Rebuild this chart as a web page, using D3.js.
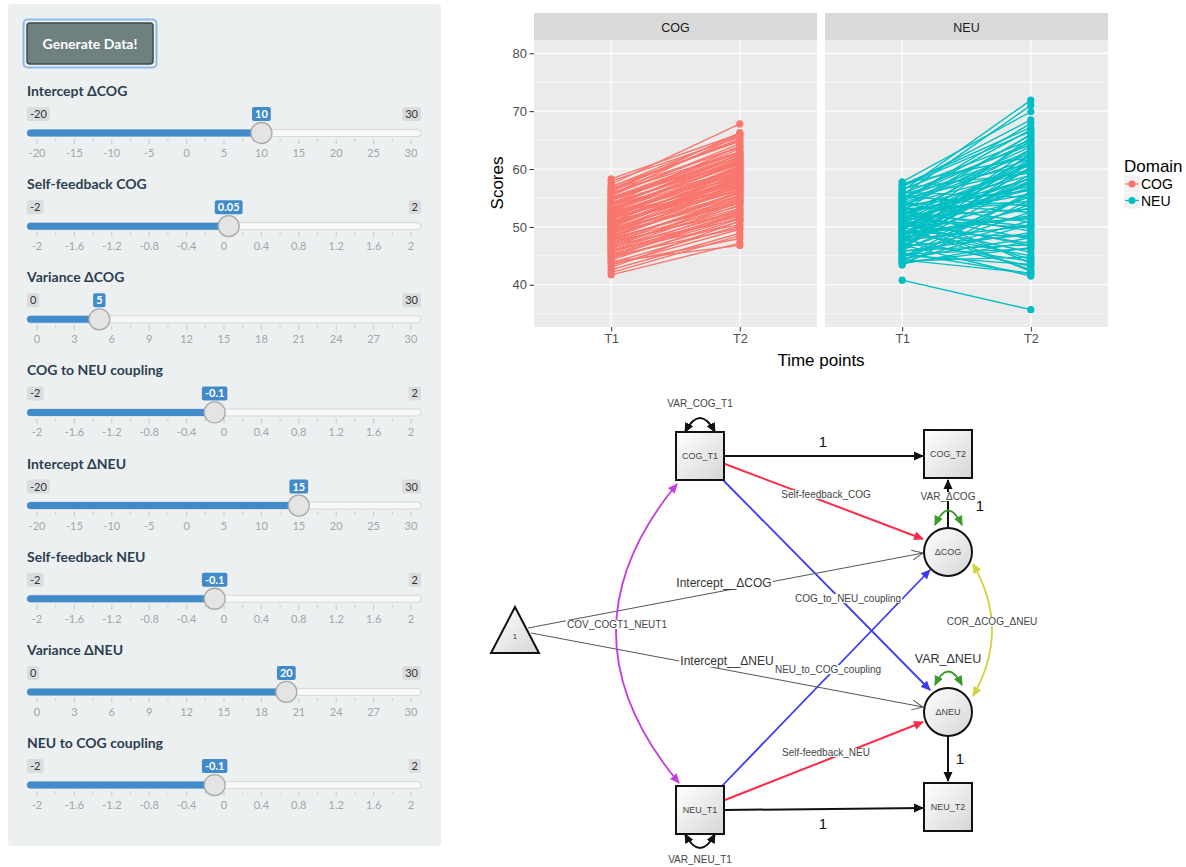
<!DOCTYPE html>
<html>
<head>
<meta charset="utf-8">
<script src="https://cdn.jsdelivr.net/npm/d3@7"></script>
<style>
  body { margin: 0; background: #fff; }
  svg { display: block; }
</style>
</head>
<body>
<svg id="app" width="1186" height="867"></svg>
<script>
// ---- slider inputs ----
var sliderLabels = ["Intercept ΔCOG", "Self-feedback COG", "Variance ΔCOG", "COG to NEU coupling",
                    "Intercept ΔNEU", "Self-feedback NEU", "Variance ΔNEU", "NEU to COG coupling"];
var sliderMins = [-20, -2, 0, -2, -20, -2, 0, -2];
var sliderMaxs = [30, 2, 30, 2, 30, 2, 30, 2];
var sliderValues = [10, 0.05, 5, -0.1, 15, -0.1, 20, -0.1];
var sliderGridSteps = [5, 0.4, 3, 0.4, 5, 0.4, 3, 0.4];

// ---- simulated scores ----
var timePoints = ["T1", "T2"];
var domains = ["COG", "NEU"];
var domainColors = ["#F8766D", "#00BFC4"];
var yTicks = [40, 50, 60, 70, 80];
var yMinorTicks = [35, 45, 55, 65, 75];

var cogT1 = [50.2, 47.8, 53.1, 44.6, 55.7, 49.3, 51.9, 46.2, 58.3, 42.1, 52.4, 48.7, 54.8, 50.9, 45.3, 56.6, 43.4, 51.2,
             49.8, 53.9, 47.1, 57.4, 44.0, 52.8, 50.5, 46.8, 55.1, 48.2, 53.5, 41.7, 51.6, 49.0, 54.2, 45.9, 57.0, 50.0,
             47.5, 52.1, 43.0, 56.1, 48.9, 53.7, 46.5, 51.4, 55.4, 44.9, 50.7, 49.5, 54.5, 42.6, 52.6, 47.3, 57.9, 45.1,
             51.0, 48.4, 53.3, 46.0, 55.9, 50.4, 43.8, 52.0, 49.2, 54.0, 47.6, 56.9, 45.6, 51.8, 48.0, 53.0,
             49.6, 52.3, 46.6, 54.6, 51.5, 48.5, 55.0, 44.3, 50.8, 53.6, 47.0, 56.3, 49.9, 45.8, 52.9, 51.3, 48.1, 54.9,
             43.6, 50.3, 53.8, 47.9, 56.5, 46.3, 51.7, 49.4, 55.6, 44.8, 52.5, 50.6];
var cogT2 = [57.9, 54.6, 60.8, 50.9, 63.9, 55.2, 59.7, 53.8, 66.1, 48.5, 58.6, 57.0, 62.4, 56.8, 52.1, 65.2, 49.6, 58.9,
             56.3, 61.7, 55.4, 67.8, 46.8, 60.1, 58.4, 51.3, 63.0, 55.9, 62.6, 47.2, 57.5, 56.6, 61.1, 53.0, 64.8, 59.3,
             53.6, 60.4, 51.0, 66.3, 54.8, 59.9, 54.7, 59.0, 64.4, 49.8, 57.1, 58.1, 63.5, 48.9, 61.3, 52.7, 65.5, 51.6,
             56.2, 56.1, 60.9, 50.4, 62.9, 58.7, 50.2, 58.0, 57.6, 64.0, 55.0, 66.0, 52.4, 60.0, 54.1, 61.6,
             56.9, 59.2, 54.2, 62.0, 60.3, 55.5, 61.9, 51.4, 59.6, 62.2, 53.2, 63.7, 58.5, 51.9, 61.0, 57.8, 56.0, 62.8,
             48.0, 58.2, 61.4, 54.3, 65.1, 52.6, 60.6, 55.8, 65.8, 52.3, 59.4, 57.3];
var neuT1 = [50.8, 47.2, 53.5, 45.0, 56.2, 49.1, 52.0, 44.3, 57.8, 48.5, 51.3, 54.7, 46.4, 50.1, 43.6, 55.5, 49.7, 52.9,
             47.9, 53.9, 45.7, 51.0, 56.9, 48.0, 50.4, 44.7, 54.1, 46.9, 52.5, 49.4, 57.2, 43.9, 51.7, 47.5, 55.0, 50.0,
             45.3, 53.2, 48.8, 56.5, 46.1, 51.5, 44.1, 54.4, 49.9, 52.2, 47.0, 55.8, 45.5, 50.6, 48.2, 53.7, 43.4, 51.9,
             46.7, 57.5, 49.2, 54.9, 44.9, 52.7, 47.7, 50.3, 55.3, 46.3, 53.0, 48.6, 51.1, 56.0, 45.9, 40.8,
             49.5, 52.4, 46.0, 54.6, 50.9, 47.4, 55.7, 44.5, 51.6, 53.4, 48.3, 56.7, 45.1, 50.2, 52.8, 47.8, 54.2, 43.8,
             49.0, 53.1, 46.6, 55.1, 51.2, 48.9, 57.0, 44.0, 52.1, 50.7, 46.2, 54.0];
var neuT2 = [58.4, 44.1, 63.9, 52.6, 71.9, 48.3, 60.7, 42.0, 69.9, 55.2, 46.7, 66.8, 57.9, 51.4, 47.5, 71.0, 62.3, 54.0,
             43.2, 59.6, 49.0, 64.9, 68.5, 53.3, 45.6, 56.1, 61.8, 41.5, 57.0, 65.5, 67.2, 50.5, 55.7, 60.2, 63.0, 42.6,
             46.2, 58.9, 61.4, 65.0, 53.9, 49.8, 44.8, 62.7, 56.6, 47.9, 59.1, 64.2, 41.9, 60.0, 52.0, 56.3, 54.8, 63.4,
             48.6, 62.1, 45.0, 59.9, 51.1, 66.0, 50.2, 57.4, 53.6, 62.8, 43.7, 58.0, 61.0, 55.1, 46.9, 35.7,
             61.7, 50.1, 55.4, 67.9, 44.4, 58.6, 60.9, 48.1, 53.1, 65.9, 62.5, 59.3, 43.5, 56.8, 49.3, 63.6, 52.5, 46.4,
             57.7, 54.4, 60.4, 64.6, 42.3, 51.7, 66.5, 55.9, 58.3, 47.1, 61.2, 50.8];
var scoresT1 = [cogT1, neuT1];
var scoresT2 = [cogT2, neuT2];

var svg = d3.select("#app");

// ================= sidebar with sliders =================
svg.append("rect")
  .attr("x", 8).attr("y", 4).attr("width", 433).attr("height", 842)
  .attr("rx", 4).attr("fill", "#ecf0f1");

// button with focus ring
svg.append("rect")
  .attr("x", 23.5).attr("y", 19.5).attr("width", 133).attr("height", 48)
  .attr("rx", 4).attr("fill", "none").attr("stroke", "#8dbbe9").attr("stroke-width", 2);
svg.append("rect")
  .attr("x", 27).attr("y", 23).attr("width", 126).attr("height", 41)
  .attr("rx", 3).attr("fill", "#6e8080").attr("stroke", "#3f4a4b").attr("stroke-width", 1.5);
svg.append("text")
  .attr("x", 90).attr("y", 48.5).attr("text-anchor", "middle")
  .style("font", "bold 14px Lato").attr("fill", "#fff")
  .text("Generate Data!");

var blue = "#428bca";

sliderLabels.forEach(function(label, i) {
  var trackY = 133 + i * 93.15;
  var sx = d3.scaleLinear().domain([sliderMins[i], sliderMaxs[i]]).range([37, 411]);
  var g = svg.append("g");

  g.append("text")
    .attr("x", 27).attr("y", trackY - 37)
    .style("font", "bold 14px Lato").attr("fill", "#2c3e50")
    .text(label);

  // min / max labels
  function box(text, x, anchor, fill, color, bold) {
    var t = g.append("text")
      .attr("y", trackY - 15)
      .style("font", (bold ? "bold " : "") + "11px Lato")
      .attr("fill", color)
      .text(text);
    var w = t.node().getComputedTextLength() + 6;
    var left = anchor === "start" ? x : anchor === "end" ? x - w : x - w / 2;
    g.insert("rect", "text")
      .attr("x", left).attr("y", trackY - 26).attr("width", w).attr("height", 14)
      .attr("rx", 2).attr("fill", fill);
    t.attr("x", left + 3);
  }
  box(String(sliderMins[i]), 27, "start", "#dadcde", "#333", false);
  box(String(sliderMaxs[i]), 421, "end", "#dadcde", "#333", false);

  // track + fill
  var hx = sx(sliderValues[i]);
  g.append("rect")
    .attr("x", 27).attr("y", trackY - 3.5).attr("width", 394).attr("height", 7)
    .attr("rx", 3.5).attr("fill", "#f8f8f8").attr("stroke", "#cfcfcf").attr("stroke-width", 0.8);
  g.append("rect")
    .attr("x", 27).attr("y", trackY - 3.5).attr("width", hx - 27).attr("height", 7)
    .attr("rx", 3.5).attr("fill", blue);

  // grid
  var step = sliderGridSteps[i];
  var grid = d3.range(0, 11).map(function(k) { return +(sliderMins[i] + k * step).toFixed(2); });
  g.selectAll(".maj").data(grid).enter().append("line")
    .attr("x1", d => sx(d)).attr("x2", d => sx(d))
    .attr("y1", trackY + 6).attr("y2", trackY + 11)
    .attr("stroke", "#c8cacc").attr("stroke-width", 1);
  g.selectAll(".mn").data(grid.slice(0, -1)).enter().append("line")
    .attr("x1", d => sx(d + step / 2)).attr("x2", d => sx(d + step / 2))
    .attr("y1", trackY + 6).attr("y2", trackY + 8.5)
    .attr("stroke", "#c8cacc").attr("stroke-width", 1);
  g.selectAll(".lab").data(grid).enter().append("text")
    .attr("x", d => sx(d)).attr("y", trackY + 24)
    .attr("text-anchor", "middle")
    .style("font", "11px Lato").attr("fill", "#a3a6a8")
    .text(d => String(d));

  // value bubble + handle
  box(String(sliderValues[i]), hx, "middle", blue, "#fff", true);
  g.append("circle")
    .attr("cx", hx).attr("cy", trackY).attr("r", 10.5)
    .attr("fill", "#e4e4e4").attr("stroke", "#a9a9a9").attr("stroke-width", 1.3);
});

// ================= faceted line plot =================
var panelW = 283, panelTop = 40, panelBottom = 327;
var panelX = [534, 825];
var y = d3.scaleLinear().domain([32.7, 82.3]).range([panelBottom, panelTop]);
var chartFont = "Liberation Sans, Arial, sans-serif";

domains.forEach(function(dom, di) {
  var x = d3.scalePoint().domain(timePoints).range([panelX[di], panelX[di] + panelW]).padding(0.6);
  var g = svg.append("g");

  g.append("rect").attr("x", panelX[di]).attr("y", 13).attr("width", panelW).attr("height", 27)
    .attr("fill", "#D9D9D9");
  g.append("text").attr("x", panelX[di] + panelW / 2).attr("y", 31.5)
    .attr("text-anchor", "middle").style("font-family", chartFont).style("font-size", "12.5px")
    .attr("fill", "#1a1a1a").text(dom);
  g.append("rect").attr("x", panelX[di]).attr("y", panelTop).attr("width", panelW)
    .attr("height", panelBottom - panelTop).attr("fill", "#EBEBEB");

  g.selectAll(".minor").data(yMinorTicks).enter().append("line")
    .attr("x1", panelX[di]).attr("x2", panelX[di] + panelW)
    .attr("y1", d => y(d)).attr("y2", d => y(d))
    .attr("stroke", "#fff").attr("stroke-width", 0.6);
  g.selectAll(".major").data(yTicks).enter().append("line")
    .attr("x1", panelX[di]).attr("x2", panelX[di] + panelW)
    .attr("y1", d => y(d)).attr("y2", d => y(d))
    .attr("stroke", "#fff").attr("stroke-width", 1.2);
  g.selectAll(".vmajor").data(timePoints).enter().append("line")
    .attr("x1", d => x(d)).attr("x2", d => x(d))
    .attr("y1", panelTop).attr("y2", panelBottom)
    .attr("stroke", "#fff").attr("stroke-width", 1.2);

  var t1 = scoresT1[di], t2 = scoresT2[di];
  var pairs = t1.map(function(v, k) { return [v, t2[k]]; });
  var line = d3.line().x((d, k) => x(timePoints[k])).y(d => y(d));
  g.selectAll(".traj").data(pairs).enter().append("path")
    .attr("d", d => line(d))
    .attr("fill", "none").attr("stroke", domainColors[di]).attr("stroke-width", 1.4);
  timePoints.forEach(function(tp, k) {
    g.selectAll(".pt" + k).data(pairs).enter().append("circle")
      .attr("cx", x(tp)).attr("cy", d => y(d[k])).attr("r", 3.6)
      .attr("fill", domainColors[di]);
  });

  // x axis
  var xa = g.append("g").attr("transform", "translate(0," + panelBottom + ")")
    .call(d3.axisBottom(x).tickSizeInner(4.5).tickSizeOuter(0).tickPadding(3));
  xa.select(".domain").remove();
  xa.selectAll("line").attr("stroke", "#333");
  xa.selectAll("text").style("font-family", chartFont).style("font-size", "12.5px").attr("fill", "#4d4d4d");
});

var ya = svg.append("g").attr("transform", "translate(" + panelX[0] + ",0)")
  .call(d3.axisLeft(y).tickValues(yTicks).tickSizeInner(4.5).tickSizeOuter(0).tickPadding(2.5));
ya.select(".domain").remove();
ya.selectAll("line").attr("stroke", "#333");
ya.selectAll("text").style("font-family", chartFont).style("font-size", "13px").attr("fill", "#4d4d4d");

svg.append("text").attr("transform", "translate(503,183) rotate(-90)")
  .attr("text-anchor", "middle").style("font-family", chartFont).style("font-size", "17px")
  .attr("fill", "#000").text("Scores");
svg.append("text").attr("x", 821).attr("y", 366)
  .attr("text-anchor", "middle").style("font-family", chartFont).style("font-size", "17px")
  .attr("fill", "#000").text("Time points");

// legend
svg.append("text").attr("x", 1124).attr("y", 172)
  .style("font-family", chartFont).style("font-size", "17px").attr("fill", "#000").text("Domain");
domains.forEach(function(dom, di) {
  var ky = 184 + di * 16.5;
  svg.append("rect").attr("x", 1124).attr("y", ky - 8).attr("width", 16).attr("height", 16).attr("fill", "#f2f2f2");
  svg.append("line").attr("x1", 1125).attr("x2", 1139).attr("y1", ky).attr("y2", ky)
    .attr("stroke", domainColors[di]).attr("stroke-width", 1.2);
  svg.append("circle").attr("cx", 1132).attr("cy", ky).attr("r", 3.6).attr("fill", domainColors[di]);
  svg.append("text").attr("x", 1141).attr("y", ky + 5)
    .style("font-family", chartFont).style("font-size", "14px").attr("fill", "#000").text(dom);
});

// ================= path diagram =================
var diagFont = "Liberation Sans, Arial, sans-serif";
var defs = svg.append("defs");
var grad = defs.append("linearGradient").attr("id", "nodeFill")
  .attr("x1", "0").attr("y1", "0").attr("x2", "1").attr("y2", "1");
grad.append("stop").attr("offset", "0").attr("stop-color", "#ffffff");
grad.append("stop").attr("offset", "1").attr("stop-color", "#d6d6d6");

var arrowColors = { black: "#111", red: "#ff2a47", blue: "#3b3bf2", magenta: "#c63de0", green: "#3c9a2c", yellow: "#d2d23c" };
Object.keys(arrowColors).forEach(function(k) {
  defs.append("marker").attr("id", "arr-" + k)
    .attr("viewBox", "0 -5 10 10").attr("refX", 9).attr("refY", 0)
    .attr("markerUnits", "userSpaceOnUse").attr("markerWidth", 10).attr("markerHeight", 10)
    .attr("orient", "auto-start-reverse")
    .append("path").attr("d", "M0,-4.5L10,0L0,4.5Z").attr("fill", arrowColors[k]);
});
defs.append("marker").attr("id", "arr-open")
  .attr("viewBox", "0 -6 12 12").attr("refX", 11).attr("refY", 0)
  .attr("markerUnits", "userSpaceOnUse").attr("markerWidth", 12).attr("markerHeight", 12)
  .attr("orient", "auto")
  .append("path").attr("d", "M0,-5L11,0L0,5").attr("fill", "none").attr("stroke", "#555").attr("stroke-width", 1);

var dg = svg.append("g");

function edge(d, color, width, both, open) {
  var p = dg.append("path").attr("d", d).attr("fill", "none")
    .attr("stroke", open ? "#555" : arrowColors[color]).attr("stroke-width", width);
  p.attr("marker-end", "url(#arr-" + (open ? "open" : color) + ")");
  if (both) p.attr("marker-start", "url(#arr-" + color + ")");
}
function label(text, x, yy, size, bg, color) {
  var t = dg.append("text").attr("x", x).attr("y", yy).attr("text-anchor", "middle")
    .style("font-family", diagFont).style("font-size", size + "px").attr("fill", color || "#444").text(text);
  if (bg) {
    var b = t.node().getBBox();
    dg.insert("rect", function() { return t.node(); })
      .attr("x", b.x - 1).attr("y", b.y + 1).attr("width", b.width + 2).attr("height", b.height - 2).attr("fill", "#fff");
  }
}

// regression paths
edge("M725,456L923,456", "black", 2);
edge("M725,810L923,808", "black", 2);
edge("M948,527L948,480", "black", 2);
edge("M948,736L948,781", "black", 2);
edge("M725,464L923,539", "red", 2);
edge("M725,800L923,722", "red", 2);
edge("M722,479L930,690", "blue", 1.8);
edge("M722,786L930,570", "blue", 1.8);
edge("M528,628L923,553", "black", 1, false, true);
edge("M531,633L923,707", "black", 1, false, true);
// covariances / variances
edge("M679,783Q554,633 677,484", "magenta", 1.8, true);
edge("M973,564Q1011,630 973,696", "yellow", 1.8, true);
edge("M685,432Q700,404 715,432", "black", 1.8, true);
edge("M685,834Q700,862 715,834", "black", 1.8, true);
edge("M935,525Q948,496 962,525", "green", 1.8, true);
edge("M935,685Q948,658 962,685", "green", 1.8, true);

// nodes
[[676, 432, "COG_T1"], [676, 786, "NEU_T1"], [924, 430, "COG_T2"], [924, 783, "NEU_T2"]].forEach(function(n) {
  dg.append("rect").attr("x", n[0]).attr("y", n[1]).attr("width", 48).attr("height", 48)
    .attr("fill", "url(#nodeFill)").attr("stroke", "#111").attr("stroke-width", 2);
  dg.append("text").attr("x", n[0] + 24).attr("y", n[1] + 27).attr("text-anchor", "middle")
    .style("font-family", diagFont).style("font-size", "9px").attr("fill", "#444").text(n[2]);
});
[[948, 552, "ΔCOG"], [948, 712, "ΔNEU"]].forEach(function(n) {
  dg.append("circle").attr("cx", n[0]).attr("cy", n[1]).attr("r", 24)
    .attr("fill", "url(#nodeFill)").attr("stroke", "#111").attr("stroke-width", 2);
  dg.append("text").attr("x", n[0]).attr("y", n[1] + 3).attr("text-anchor", "middle")
    .style("font-family", diagFont).style("font-size", "9px").attr("fill", "#444").text(n[2]);
});
dg.append("path").attr("d", "M515,607L539,653L491,653Z")
  .attr("fill", "url(#nodeFill)").attr("stroke", "#111").attr("stroke-width", 2);
label("1", 515, 639, 8);

// path labels
label("VAR_COG_T1", 700, 407, 10);
label("VAR_NEU_T1", 700, 863, 10);
label("1", 823, 447, 15, false, "#111");
label("1", 823, 829, 15, false, "#111");
label("1", 980, 511, 15, false, "#111");
label("1", 960, 764, 15, false, "#111");
label("VAR_ΔCOG", 948, 500, 10, true);
label("VAR_ΔNEU", 948, 663, 12.5, false, "#333");
label("Self-feedback_COG", 826, 498, 10, true);
label("Self-feedback_NEU", 826, 756, 10, true);
label("COG_to_NEU_coupling", 848, 602, 10, true);
label("NEU_to_COG_coupling", 828, 673, 10, true);
label("Intercept__ΔCOG", 724, 587, 12, true, "#333");
label("Intercept__ΔNEU", 727, 665, 12, true, "#333");
label("COV_COGT1_NEUT1", 617, 628, 10, true);
label("COR_ΔCOG_ΔNEU", 992, 625, 10, true);
</script>
</body>
</html>
